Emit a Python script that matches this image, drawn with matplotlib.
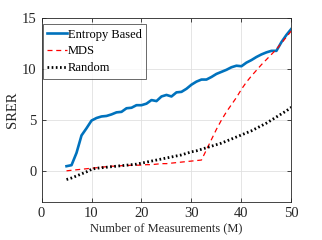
import matplotlib
matplotlib.use("Agg")
import matplotlib.pyplot as plt
import numpy as np

plt.rcParams['font.family'] = ['Liberation Serif', 'DejaVu Serif']

M = list(range(5, 51))
entropy = [0.5, 0.6, 1.8, 3.5, 4.2, 4.95, 5.2, 5.35, 5.4, 5.55, 5.75, 5.8, 6.15, 6.2, 6.45, 6.45,
           6.6, 6.95, 6.85, 7.3, 7.45, 7.3, 7.7, 7.75, 8.05, 8.45, 8.75, 8.95, 8.95, 9.2, 9.5,
           9.7, 9.9, 10.15, 10.3, 10.25, 10.6, 10.85, 11.15, 11.4, 11.6, 11.75, 11.75, 12.6, 13.3, 13.9]
mds = [0.05, 0.1, 0.15, 0.2, 0.25, 0.3, 0.35, 0.4, 0.45, 0.5, 0.5, 0.55, 0.55, 0.6, 0.6, 0.6,
       0.65, 0.65, 0.7, 0.75, 0.75, 0.8, 0.85, 0.9, 0.95, 1.0, 1.05, 1.1, 2.1, 3.1, 4.1,
       5.0, 5.8, 6.5, 7.2, 8.0, 8.7, 9.3, 9.85, 10.4, 10.9, 11.4, 11.9, 12.5, 13.1, 13.7]
rand = [-0.8, -0.65, -0.45, -0.25, -0.05, 0.2, 0.3, 0.35, 0.4, 0.45, 0.5, 0.55, 0.6, 0.65, 0.7, 0.8,
        0.9, 1.0, 1.1, 1.2, 1.3, 1.4, 1.5, 1.6, 1.75, 1.9, 2.0, 2.15, 2.3, 2.45, 2.6,
        2.75, 2.95, 3.15, 3.35, 3.55, 3.75, 3.95, 4.2, 4.45, 4.7, 5.0, 5.3, 5.6, 5.9, 6.25]

fig = plt.figure(figsize=(3.22, 2.40), dpi=100)
ax = fig.add_axes([0.129, 0.158, 0.776, 0.769])
ax.plot(M, entropy, color='#0072BD', lw=1.9, label='Entropy Based')
ax.plot(M, mds, color='#FF0000', lw=0.9, ls=(0, (4, 3)), label='MDS')
ax.plot(M, rand, color='black', lw=2.0, ls=(0, (0.6, 0.9)), label='Random')
ax.set_xlim(0, 50)
ax.set_ylim(-3, 15)
ax.set_xticks([0, 10, 20, 30, 40, 50])
ax.set_yticks([0, 5, 10, 15])
ax.grid(True, color='#e0e0e0', lw=0.6)
ax.set_axisbelow(True)
ax.tick_params(direction='in', length=3, top=True, right=True, labelsize=10.5, colors='#262626', width=0.6)
for s in ax.spines.values():
    s.set_color('#262626')
    s.set_linewidth(0.6)
ax.set_xlabel('Number of Measurements (M)', fontsize=9.0, color='#262626', labelpad=1.5)
ax.set_ylabel('SRER', fontsize=10.5, color='#262626', labelpad=2)
leg = ax.legend(loc='upper left', bbox_to_anchor=(0.004, 0.963), fontsize=9.0, frameon=True,
                fancybox=False, edgecolor='#262626',
                handlelength=1.6, handletextpad=0.1, borderpad=0.35, labelspacing=0.38,
                borderaxespad=0.0)
leg.get_frame().set_linewidth(0.6)
fig.savefig('out.png', dpi=100)
